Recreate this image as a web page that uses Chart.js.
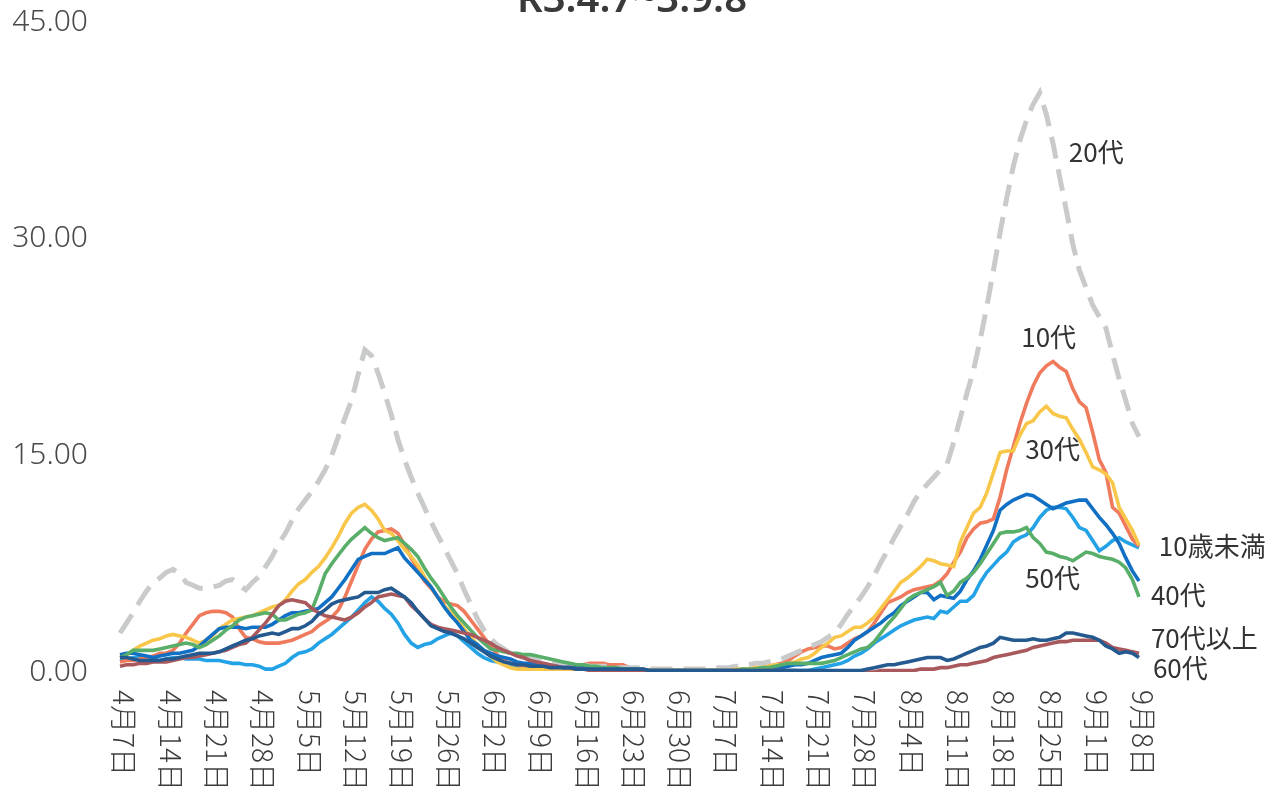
<!DOCTYPE html>
<html>
<head>
<meta charset="utf-8">
<script src="https://cdn.jsdelivr.net/npm/chart.js@4.4.0/dist/chart.umd.min.js"></script>
<style>
  html, body { margin: 0; padding: 0; background: #fff; }
  #wrap { width: 1275px; height: 800px; position: relative; }
</style>
</head>
<body>
<div id="wrap"><canvas id="ageChart"></canvas></div>
<script>
// 年代別 直近7日間平均（R3.4.7~3.9.8）

// 横軸：4月7日〜9月8日の毎日（155日）
var monthLength = { 4: 30, 5: 31, 6: 30, 7: 31, 8: 31, 9: 30 };
var days = [];
(function () {
    var m = 4, d = 7;
    while (!(m === 9 && d > 8)) {
        days.push(m + '月' + d + '日');
        d++;
        if (d > monthLength[m]) { d = 1; m++; }
    }
})();

// 7日おきに表示する目盛ラベル
var tickLabels = ['4月7日', '4月14日', '4月21日', '4月28日', '5月5日', '5月12日', '5月19日', '5月26日',
    '6月2日', '6月9日', '6月16日', '6月23日', '6月30日', '7月7日', '7月14日', '7月21日', '7月28日',
    '8月4日', '8月11日', '8月18日', '8月25日', '9月1日', '9月8日'];

var yTicks = [0, 15, 30, 45];

var under10 = [
    0.8, 0.9, 1.0, 1.0, 0.9, 0.9, 0.8, 0.9, 1.0, 1.0,
    0.9, 0.9, 0.9, 0.8, 0.8, 0.8, 0.7, 0.6, 0.6, 0.5,
    0.5, 0.4, 0.2, 0.2, 0.4, 0.6, 1.0, 1.3, 1.4, 1.6,
    2.0, 2.3, 2.6, 3.0, 3.4, 3.8, 4.3, 4.8, 5.2, 4.9,
    4.4, 4.0, 3.4, 2.6, 2.0, 1.7, 1.9, 2.0, 2.3, 2.5,
    2.7, 2.5, 2.1, 1.7, 1.3, 1.0, 0.8, 0.7, 0.6, 0.5,
    0.4, 0.3, 0.2, 0.2, 0.2, 0.2, 0.3, 0.3, 0.3, 0.2,
    0.2, 0.2, 0.1, 0.1, 0.1, 0.1, 0.1, 0.1, 0.1, 0.1,
    0.1, 0.1, 0.1, 0.1, 0.1, 0.1, 0.1, 0.1, 0.1, 0.1,
    0.1, 0.1, 0.1, 0.1, 0.1, 0.1, 0.1, 0.1, 0.1, 0.1,
    0.1, 0.1, 0.1, 0.1, 0.1, 0.2, 0.3, 0.4, 0.5, 0.6,
    0.8, 1.1, 1.3, 1.6, 2.0, 2.3, 2.6, 2.9, 3.2, 3.4,
    3.6, 3.7, 3.8, 3.7, 4.2, 4.1, 4.5, 4.9, 4.9, 5.3,
    6.2, 6.9, 7.4, 7.9, 8.3, 9.0, 9.3, 9.5, 10.0, 10.7,
    11.2, 11.4, 11.4, 11.3, 10.7, 10.0, 9.8, 9.1, 8.4, 8.7,
    9.1, 9.3, 9.0, 8.8, 8.6
];

var teens = [
    0.7, 0.8, 0.8, 0.9, 1.0, 1.1, 1.3, 1.3, 1.5, 2.0,
    2.7, 3.3, 3.9, 4.1, 4.2, 4.2, 4.1, 3.8, 3.0, 2.4,
    2.3, 2.1, 2.0, 2.0, 2.0, 2.1, 2.2, 2.4, 2.6, 2.8,
    3.2, 3.5, 3.8, 4.3, 5.2, 6.3, 7.4, 8.5, 9.2, 9.7,
    9.8, 9.9, 9.6, 8.8, 7.9, 7.1, 6.3, 5.8, 5.2, 4.9,
    4.7, 4.6, 4.2, 3.6, 3.0, 2.4, 1.8, 1.2, 0.8, 0.6,
    0.5, 0.4, 0.4, 0.3, 0.3, 0.3, 0.2, 0.2, 0.3, 0.4,
    0.5, 0.6, 0.6, 0.6, 0.5, 0.5, 0.5, 0.3, 0.2, 0.2,
    0.1, 0.1, 0.1, 0.1, 0.1, 0.1, 0.1, 0.1, 0.1, 0.1,
    0.1, 0.1, 0.1, 0.1, 0.1, 0.2, 0.2, 0.3, 0.4, 0.5,
    0.6, 0.8, 1.1, 1.4, 1.6, 1.7, 1.8, 1.8, 1.6, 1.7,
    2.0, 2.3, 2.5, 2.8, 3.4, 4.1, 4.8, 5.0, 5.2, 5.5,
    5.7, 5.8, 5.9, 6.0, 6.3, 6.8, 7.6, 8.3, 9.3, 9.9,
    10.3, 10.4, 10.6, 12.1, 14.0, 15.6, 17.2, 18.6, 19.8, 20.7,
    21.2, 21.5, 21.1, 20.8, 19.6, 18.7, 18.3, 16.6, 14.7, 13.8,
    11.4, 11.0, 10.1, 9.2, 8.7
];

var twenties = [
    2.7, 3.4, 4.1, 4.9, 5.6, 6.2, 6.5, 6.9, 7.1, 6.8,
    6.2, 6.0, 5.8, 5.8, 5.9, 6.0, 6.3, 6.4, 6.0, 5.7,
    6.2, 6.6, 7.3, 8.0, 8.9, 9.6, 10.5, 11.3, 11.9, 12.5,
    13.2, 14.0, 15.0, 16.3, 17.6, 18.8, 20.6, 22.3, 21.9, 20.7,
    19.3, 17.8, 16.1, 14.7, 13.5, 12.4, 11.4, 10.4, 9.5, 8.6,
    7.7, 6.8, 5.7, 4.7, 3.7, 2.9, 2.3, 1.9, 1.6, 1.3,
    1.1, 1.0, 0.9, 0.8, 0.7, 0.7, 0.6, 0.6, 0.5, 0.5,
    0.5, 0.4, 0.4, 0.4, 0.4, 0.3, 0.3, 0.3, 0.3, 0.3,
    0.2, 0.2, 0.2, 0.2, 0.2, 0.2, 0.2, 0.2, 0.2, 0.2,
    0.3, 0.3, 0.3, 0.4, 0.4, 0.5, 0.6, 0.6, 0.7, 0.8,
    0.9, 1.1, 1.3, 1.5, 1.7, 1.9, 2.1, 2.4, 2.7, 3.3,
    4.0, 4.6, 5.2, 5.9, 6.7, 7.6, 8.4, 9.3, 10.1, 10.9,
    11.8, 12.5, 13.0, 13.5, 14.0, 14.4, 15.9, 17.6, 19.3, 20.9,
    23.0, 25.3, 27.8, 30.4, 32.8, 35.0, 36.8, 38.2, 39.3, 40.1,
    38.6, 36.6, 34.3, 32.0, 29.6, 27.8, 26.6, 25.4, 24.6, 23.8,
    22.0, 20.3, 18.8, 17.2, 16.3
];

var thirties = [
    1.0, 1.2, 1.5, 1.8, 2.0, 2.2, 2.3, 2.5, 2.6, 2.5,
    2.4, 2.2, 2.0, 2.2, 2.5, 3.0, 3.3, 3.6, 3.7, 3.8,
    3.9, 4.1, 4.3, 4.5, 4.6, 5.0, 5.6, 6.1, 6.4, 6.9,
    7.3, 7.9, 8.6, 9.4, 10.3, 11.0, 11.4, 11.6, 11.2, 10.6,
    9.8, 9.6, 9.1, 8.5, 8.0, 7.4, 6.6, 5.9, 5.2, 4.6,
    4.1, 3.6, 3.0, 2.4, 1.9, 1.5, 1.1, 0.7, 0.5, 0.3,
    0.2, 0.2, 0.2, 0.2, 0.2, 0.2, 0.2, 0.2, 0.2, 0.2,
    0.2, 0.2, 0.2, 0.2, 0.2, 0.2, 0.1, 0.1, 0.1, 0.1,
    0.1, 0.1, 0.1, 0.1, 0.1, 0.1, 0.1, 0.1, 0.1, 0.1,
    0.1, 0.1, 0.1, 0.2, 0.2, 0.2, 0.3, 0.3, 0.4, 0.5,
    0.5, 0.6, 0.7, 0.9, 1.0, 1.3, 1.7, 2.0, 2.4, 2.5,
    2.8, 3.1, 3.1, 3.4, 3.8, 4.4, 5.0, 5.6, 6.2, 6.5,
    6.9, 7.3, 7.8, 7.7, 7.5, 7.4, 7.3, 9.0, 10.0, 11.0,
    11.4, 12.4, 13.8, 15.2, 15.3, 15.3, 16.4, 17.2, 17.4, 18.0,
    18.4, 17.9, 17.7, 17.6, 16.8, 16.1, 15.2, 14.2, 14.0, 13.7,
    13.1, 11.4, 10.6, 9.8, 8.8
];

var forties = [
    1.2, 1.3, 1.3, 1.2, 1.1, 1.0, 1.1, 1.2, 1.3, 1.3,
    1.4, 1.5, 1.8, 2.2, 2.6, 3.0, 3.1, 3.1, 3.1, 3.0,
    3.1, 3.1, 3.1, 3.3, 3.6, 3.9, 4.1, 4.1, 4.2, 4.3,
    4.4, 4.8, 5.2, 5.8, 6.4, 7.1, 7.8, 8.0, 8.2, 8.2,
    8.2, 8.4, 8.6, 7.9, 7.4, 6.9, 6.4, 5.9, 5.2, 4.5,
    3.9, 3.4, 2.8, 2.2, 1.9, 1.5, 1.3, 1.1, 1.0, 0.9,
    0.7, 0.6, 0.6, 0.5, 0.5, 0.4, 0.4, 0.3, 0.3, 0.3,
    0.3, 0.2, 0.2, 0.2, 0.2, 0.2, 0.2, 0.1, 0.1, 0.1,
    0.1, 0.1, 0.1, 0.1, 0.1, 0.1, 0.1, 0.1, 0.1, 0.1,
    0.1, 0.1, 0.1, 0.1, 0.1, 0.1, 0.2, 0.2, 0.2, 0.3,
    0.3, 0.4, 0.5, 0.5, 0.6, 0.8, 1.0, 1.1, 1.2, 1.3,
    1.7, 2.2, 2.5, 2.8, 3.1, 3.4, 3.8, 4.1, 4.6, 4.9,
    5.2, 5.5, 5.5, 5.0, 5.3, 5.2, 5.1, 5.6, 6.4, 7.0,
    7.8, 8.8, 9.8, 11.2, 11.6, 11.9, 12.1, 12.3, 12.2, 11.9,
    11.6, 11.3, 11.5, 11.7, 11.8, 11.9, 11.9, 11.3, 10.7, 10.2,
    9.6, 8.9, 7.9, 7.0, 6.3
];

var fifties = [
    1.0, 1.2, 1.5, 1.5, 1.5, 1.5, 1.6, 1.7, 1.8, 1.9,
    2.0, 1.9, 1.7, 1.9, 2.2, 2.5, 2.9, 3.2, 3.6, 3.8,
    3.9, 4.0, 4.1, 4.0, 3.6, 3.6, 3.8, 4.0, 4.1, 4.3,
    5.5, 6.8, 7.5, 8.1, 8.7, 9.2, 9.6, 10.0, 9.6, 9.3,
    9.1, 9.2, 9.3, 8.9, 8.5, 8.0, 7.2, 6.5, 5.9, 5.2,
    4.5, 3.9, 3.4, 2.9, 2.4, 2.0, 1.6, 1.5, 1.4, 1.3,
    1.3, 1.2, 1.2, 1.1, 1.0, 0.9, 0.8, 0.7, 0.6, 0.5,
    0.5, 0.4, 0.4, 0.3, 0.3, 0.3, 0.2, 0.2, 0.2, 0.2,
    0.1, 0.1, 0.1, 0.1, 0.1, 0.1, 0.1, 0.1, 0.1, 0.1,
    0.1, 0.1, 0.1, 0.1, 0.2, 0.2, 0.2, 0.3, 0.3, 0.4,
    0.5, 0.6, 0.6, 0.6, 0.6, 0.6, 0.6, 0.7, 0.8, 1.0,
    1.2, 1.4, 1.6, 1.7, 2.1, 2.7, 3.3, 3.8, 4.4, 5.0,
    5.3, 5.5, 5.7, 5.9, 6.2, 5.3, 5.6, 6.2, 6.5, 6.9,
    7.5, 8.2, 8.9, 9.6, 9.7, 9.7, 9.8, 10.0, 9.3, 8.9,
    8.3, 8.2, 8.0, 7.9, 7.7, 8.0, 8.3, 8.2, 8.0, 7.9,
    7.8, 7.6, 7.2, 6.4, 5.2
];

var sixties = [
    0.4, 0.5, 0.5, 0.6, 0.6, 0.7, 0.7, 0.7, 0.8, 0.9,
    1.0, 1.0, 1.1, 1.2, 1.3, 1.4, 1.5, 1.7, 1.9, 2.0,
    2.4, 2.9, 3.4, 4.0, 4.6, 4.9, 5.0, 4.9, 4.8, 4.4,
    4.1, 3.9, 3.8, 3.7, 3.6, 3.8, 4.1, 4.5, 4.8, 5.2,
    5.3, 5.4, 5.3, 5.2, 4.6, 4.2, 3.7, 3.3, 3.1, 3.0,
    2.9, 2.8, 2.7, 2.6, 2.4, 2.2, 2.0, 1.7, 1.5, 1.3,
    1.1, 1.0, 0.8, 0.7, 0.6, 0.5, 0.4, 0.3, 0.3, 0.2,
    0.2, 0.1, 0.1, 0.1, 0.1, 0.1, 0.1, 0.1, 0.1, 0.1,
    0.1, 0.1, 0.1, 0.1, 0.1, 0.1, 0.1, 0.1, 0.1, 0.1,
    0.1, 0.1, 0.1, 0.1, 0.1, 0.1, 0.1, 0.1, 0.1, 0.1,
    0.1, 0.1, 0.1, 0.0, 0.0, 0.0, 0.0, 0.0, 0.0, 0.0,
    0.0, 0.0, 0.0, 0.0, 0.0, 0.1, 0.1, 0.1, 0.1, 0.1,
    0.1, 0.2, 0.2, 0.2, 0.3, 0.3, 0.4, 0.5, 0.5, 0.6,
    0.7, 0.8, 1.0, 1.1, 1.2, 1.3, 1.4, 1.5, 1.7, 1.8,
    1.9, 2.0, 2.1, 2.1, 2.2, 2.2, 2.2, 2.2, 2.2, 2.0,
    1.7, 1.6, 1.5, 1.4, 1.3
];

var over70 = [
    1.0, 1.0, 0.9, 0.8, 0.8, 0.8, 0.8, 0.9, 0.9, 1.0,
    1.1, 1.2, 1.3, 1.3, 1.3, 1.4, 1.6, 1.8, 2.0, 2.2,
    2.3, 2.5, 2.6, 2.7, 2.6, 2.8, 3.0, 3.0, 3.2, 3.5,
    4.0, 4.3, 4.7, 4.9, 5.0, 5.1, 5.2, 5.5, 5.5, 5.5,
    5.7, 5.8, 5.5, 5.2, 4.8, 4.2, 3.7, 3.2, 3.0, 2.8,
    2.7, 2.5, 2.3, 2.0, 1.7, 1.4, 1.1, 0.9, 0.7, 0.6,
    0.5, 0.5, 0.4, 0.4, 0.4, 0.3, 0.3, 0.3, 0.3, 0.2,
    0.2, 0.2, 0.2, 0.2, 0.2, 0.2, 0.2, 0.2, 0.2, 0.2,
    0.1, 0.1, 0.1, 0.1, 0.1, 0.1, 0.1, 0.1, 0.1, 0.1,
    0.1, 0.1, 0.1, 0.1, 0.1, 0.1, 0.1, 0.1, 0.1, 0.1,
    0.1, 0.1, 0.1, 0.1, 0.1, 0.1, 0.1, 0.1, 0.1, 0.1,
    0.1, 0.1, 0.1, 0.2, 0.3, 0.4, 0.5, 0.5, 0.6, 0.7,
    0.8, 0.9, 1.0, 1.0, 1.0, 0.8, 0.9, 1.1, 1.3, 1.5,
    1.7, 1.8, 2.0, 2.4, 2.3, 2.2, 2.2, 2.2, 2.3, 2.2,
    2.2, 2.3, 2.4, 2.7, 2.7, 2.6, 2.5, 2.4, 2.2, 1.8,
    1.6, 1.3, 1.4, 1.3, 1.0
];

var seriesNames = ['10歳未満', '10代', '20代', '30代', '40代', '50代', '60代', '70代以上'];
var seriesColors = ['#24a2e6', '#ef7a5c', '#c9cacb', '#f8c74a', '#1170c4', '#59ae69', '#a9585c', '#245a90'];
var seriesData = [under10, teens, twenties, thirties, forties, fifties, sixties, over70];

// 系列名の表示位置（日, 値）
var nameSpots = [
    { text: '10歳未満', day: 157.0, value: 8.7 },
    { text: '10代', day: 136.2, value: 23.2 },
    { text: '20代', day: 143.4, value: 36.0 },
    { text: '30代', day: 136.8, value: 15.4 },
    { text: '40代', day: 155.8, value: 5.3 },
    { text: '50代', day: 136.8, value: 6.5 },
    { text: '60代', day: 156.1, value: 0.3 },
    { text: '70代以上', day: 155.8, value: 2.35 }
];

var datasets = seriesData.map(function (vals, i) {
    var gray = i === 2;
    return {
        label: seriesNames[i],
        data: vals,
        borderColor: seriesColors[i],
        borderWidth: gray ? 5 : 3.6,
        borderDash: gray ? [22, 11] : [],
        pointRadius: 0,
        tension: 0,
        fill: false,
        order: seriesData.length - i
    };
});

var extraText = {
    id: 'extraText',
    afterDraw: function (chart) {
        var ctx = chart.ctx;
        var xs = chart.scales.x, ys = chart.scales.y;
        ctx.save();
        // 表題（上端で切れている）
        ctx.fillStyle = '#3a3a3a';
        ctx.font = '600 40px "Noto Sans", "Noto Sans CJK JP"';
        ctx.textAlign = 'center';
        ctx.textBaseline = 'alphabetic';
        ctx.fillText('R3.4.7~3.9.8', 632, 12);

        // 日付の目盛（90度回転）
        ctx.fillStyle = '#3c3c3c';
        ctx.font = '300 28px "Noto Sans CJK JP"';
        ctx.textAlign = 'left';
        ctx.textBaseline = 'middle';
        tickLabels.forEach(function (t, k) {
            var x = xs.getPixelForValue(k * 7) + 4;
            ctx.save();
            ctx.translate(x, 690);
            ctx.rotate(Math.PI / 2);
            ctx.fillText(t, 0, 0);
            ctx.restore();
        });

        // 系列名
        ctx.fillStyle = '#333';
        ctx.font = '26px "Noto Sans CJK JP"';
        ctx.textAlign = 'left';
        ctx.textBaseline = 'middle';
        nameSpots.forEach(function (s) {
            ctx.fillText(s.text, xs.getPixelForValue(s.day), ys.getPixelForValue(s.value));
        });
        ctx.restore();
    }
};

var ctxAge = document.getElementById('ageChart').getContext('2d');
window.ageChart = new Chart(ctxAge, {
    type: 'line',
    data: {
        labels: days,
        datasets: datasets
    },
    plugins: [extraText],
    options: {
        responsive: true,
        maintainAspectRatio: false,
        animation: false,
        layout: {
            padding: { top: 22, right: 136, bottom: 128, left: 0 }
        },
        plugins: {
            legend: { display: false },
            tooltip: { enabled: false }
        },
        scales: {
            x: {
                display: false
            },
            y: {
                min: 0,
                max: 45,
                afterBuildTicks: function (scale) {
                    scale.ticks = yTicks.map(function (v) { return { value: v }; });
                },
                afterFit: function (scale) {
                    scale.width = 120;
                    scale.paddingTop = 0;
                    scale.paddingBottom = 0;
                },
                grid: { display: false, drawTicks: false },
                border: { display: false },
                ticks: {
                    padding: 32,
                    color: '#4a4a4a',
                    font: { family: '"Noto Sans"', size: 30, weight: '300' },
                    callback: function (v) { return Number(v).toFixed(2); }
                }
            }
        }
    }
});
</script>
</body>
</html>
